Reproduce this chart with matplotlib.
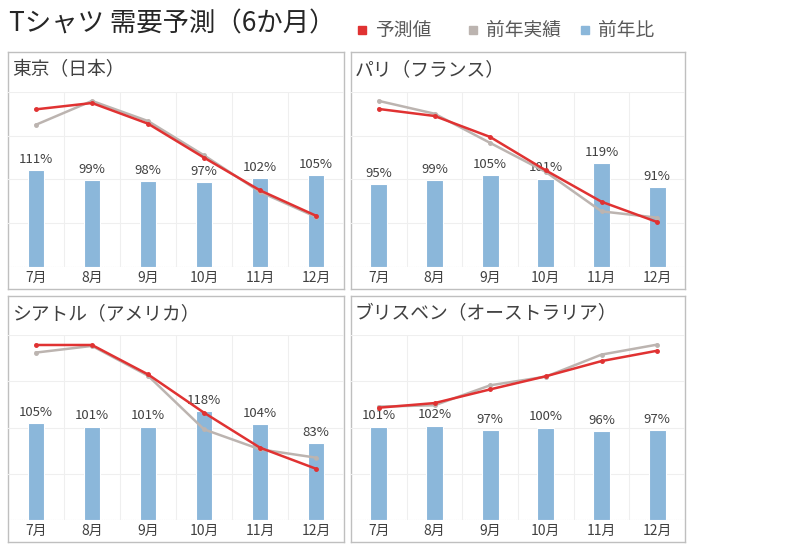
import matplotlib
matplotlib.use('agg')
import matplotlib.pyplot as plt
from matplotlib.patches import Rectangle

plt.rcParams['font.family'] = ['Noto Sans CJK JP', 'DejaVu Sans']

W, H = 800, 544

MONTHS = ['7月', '8月', '9月', '10月', '11月', '12月']
CITIES = ['東京（日本）', 'パリ（フランス）', 'シアトル（アメリカ）', 'ブリスベン（オーストラリア）']

# 前年比 (%)
yoy_tokyo = [111, 99, 98, 97, 102, 105]
yoy_paris = [95, 99, 105, 101, 119, 91]
yoy_seattle = [105, 101, 101, 118, 104, 83]
yoy_brisbane = [101, 102, 97, 100, 96, 97]

# 予測値 (relative units)
fc_tokyo = [90.1, 93.7, 81.9, 62.5, 43.8, 29.3]
fc_paris = [90.3, 86.3, 74.3, 55.2, 37.3, 25.7]
fc_seattle = [94.6, 94.6, 78.7, 58.0, 39.1, 27.7]
fc_brisbane = [60.7, 63.2, 70.6, 77.7, 85.9, 91.5]

# 前年実績 (relative units)
ly_tokyo = [81.3, 94.9, 83.4, 63.8, 42.9, 28.6]
ly_paris = [94.9, 87.6, 70.9, 54.3, 31.8, 28.2]
ly_seattle = [90.5, 94.1, 78.0, 49.0, 38.2, 33.7]
ly_brisbane = [61.3, 62.0, 72.8, 77.5, 89.4, 94.8]

YOY = [yoy_tokyo, yoy_paris, yoy_seattle, yoy_brisbane]
FORECAST = [fc_tokyo, fc_paris, fc_seattle, fc_brisbane]
LAST_YEAR = [ly_tokyo, ly_paris, ly_seattle, ly_brisbane]

RED = '#E03232'
GRAY = '#BCB4B0'
BLUE = '#8BB7DA'
TEXT = '#404040'

# panel boxes in pixels: left, top, right, bottom ; plot area top/bottom
PANELS = [
    (8, 52, 344, 289, 92, 267),
    (351, 52, 685, 289, 92, 267),
    (8, 296, 344, 542, 335, 520),
    (351, 296, 685, 542, 335, 520),
]


def rect(l, t, r, b):
    return [l / W, 1 - b / H, (r - l) / W, (b - t) / H]


fig = plt.figure(figsize=(W / 100, H / 100), dpi=100)

fig.text(9 / W, 1 - 24 / H, 'Tシャツ 需要予測（6か月）', fontsize=19,
         color='#262626', va='center', ha='left')

# legend
legend_items = [(362, RED, '予測値'), (473, GRAY, '前年実績'), (585, BLUE, '前年比')]
for x, c, lab in legend_items:
    fig.add_artist(Rectangle(((x - 4) / W, 1 - 34 / H), 8 / W, 8 / H,
                             transform=fig.transFigure, color=c))
    fig.text((x + 13) / W, 1 - 30 / H, lab, fontsize=13.5, color='#595959',
             va='center', ha='left')

for i, (l, t, r, b, pt, pb) in enumerate(PANELS):
    box = fig.add_axes(rect(l, t, r, b))
    box.set_xticks([])
    box.set_yticks([])
    box.patch.set_alpha(0)
    for s in box.spines.values():
        s.set_color('#BFBFBF')
        s.set_linewidth(1.0)
    box.text(4 / (r - l), 1 - 18 / (b - t), CITIES[i], transform=box.transAxes,
             fontsize=13.5, color=TEXT, va='center', ha='left')

    ax = fig.add_axes(rect(l, pt, r, pb))
    ax.patch.set_alpha(0)
    x = range(len(MONTHS))
    ax.bar(x, YOY[i], width=0.3, color=BLUE, edgecolor='white', linewidth=0.8, zorder=2)
    for xi, v in zip(x, YOY[i]):
        ax.annotate(f'{v}%', (xi, v), xytext=(0, 3), textcoords='offset points',
                    ha='center', va='bottom', fontsize=9.5, color=TEXT, zorder=3)
    ax.set_xlim(-0.5, len(MONTHS) - 0.5)
    ax.set_ylim(0, 200)
    ax.set_yticks([50, 100, 150, 200])
    ax.set_xticks([k + 0.5 for k in range(len(MONTHS) - 1)], minor=True)
    ax.grid(True, axis='y', color='#EFEFEF', linewidth=0.8, zorder=0)
    ax.grid(True, axis='x', which='minor', color='#EFEFEF', linewidth=0.8, zorder=0)
    ax.axhline(0, color='#C8C8C8', linewidth=0.8, linestyle=(0, (1, 1)), zorder=1)
    ax.set_xticks(list(x))
    ax.set_xticklabels(MONTHS, fontsize=10, color=TEXT)
    ax.tick_params(axis='x', which='both', length=0, pad=3)
    ax.tick_params(axis='y', length=0, labelleft=False)
    for s in ax.spines.values():
        s.set_visible(False)

    ax2 = ax.twinx()
    ax2.plot(x, LAST_YEAR[i], color=GRAY, linewidth=1.8, marker='o', markersize=2.5, zorder=4)
    ax2.plot(x, FORECAST[i], color=RED, linewidth=1.8, marker='o', markersize=2.5, zorder=5)
    ax2.set_ylim(0, 100)
    ax2.set_yticks([])
    for s in ax2.spines.values():
        s.set_visible(False)

fig.savefig('out.png', dpi=100)
